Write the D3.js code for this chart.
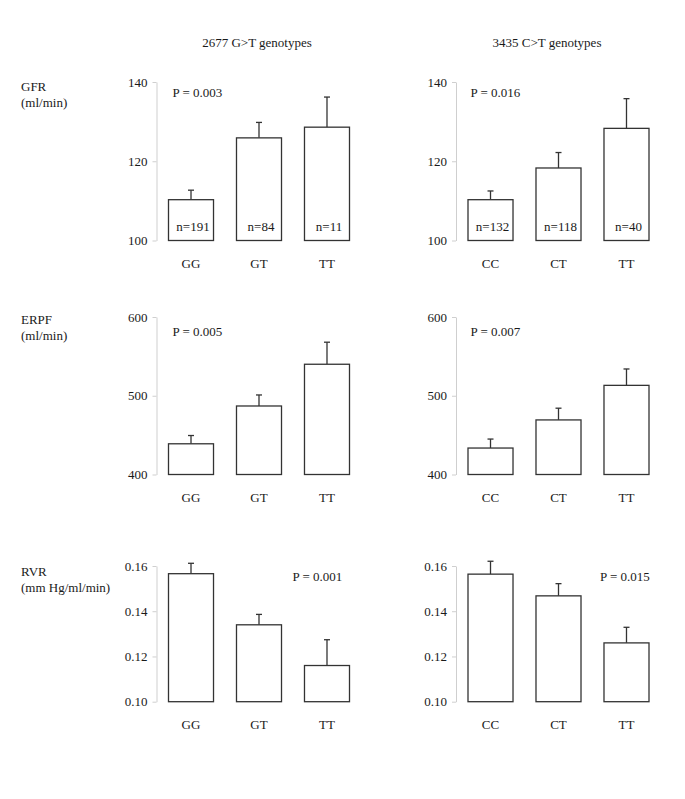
<!DOCTYPE html>
<html>
<head>
<meta charset="utf-8">
<script src="https://cdn.jsdelivr.net/npm/d3@7"></script>
<style>
  body { margin: 0; background: #fff; }
  svg { display: block; font-family: "Liberation Serif", "Times New Roman", serif; }
</style>
</head>
<body>
<svg id="chart" width="685" height="799"></svg>
<script>
// genotype groups
const cats2677 = ["GG", "GT", "TT"];
const cats3435 = ["CC", "CT", "TT"];

// GFR (ml/min) means and SE
const gfr2677 = [110.3, 125.9, 128.6];
const gfr2677Se = [2.4, 3.9, 7.6];
const gfr3435 = [110.3, 118.3, 128.3];
const gfr3435Se = [2.2, 3.9, 7.5];
const n2677 = ["n=191", "n=84", "n=11"];
const n3435 = ["n=132", "n=118", "n=40"];

// ERPF (ml/min)
const erpf2677 = [439, 487, 540];
const erpf2677Se = [10.5, 14, 28];
const erpf3435 = [433.6, 469.3, 513.2];
const erpf3435Se = [11.4, 14.9, 20.8];

// RVR (mm Hg/ml/min)
const rvr2677 = [0.1566, 0.134, 0.116];
const rvr2677Se = [0.0046, 0.0046, 0.0114];
const rvr3435 = [0.1564, 0.1468, 0.126];
const rvr3435Se = [0.0057, 0.0054, 0.0069];

const gfrTicks = [100, 120, 140];
const erpfTicks = [400, 500, 600];
const rvrTicks = [0.10, 0.12, 0.14, 0.16];

const svg = d3.select("#chart");
const ink = "#1a1a1a";

// column titles
svg.append("text").attr("x", 257).attr("y", 47).attr("text-anchor", "middle")
  .attr("font-size", 13).attr("fill", ink).text("2677 G>T genotypes");
svg.append("text").attr("x", 547).attr("y", 47).attr("text-anchor", "middle")
  .attr("font-size", 13).attr("fill", ink).text("3435 C>T genotypes");

const rows = [
  { top: 82, bottom: 240.5, label: ["GFR", "(ml/min)"], labelY: 91, ticks: gfrTicks, fmt: d3.format("d") },
  { top: 317, bottom: 474.5, label: ["ERPF", "(ml/min)"], labelY: 324, ticks: erpfTicks, fmt: d3.format("d") },
  { top: 566, bottom: 701.7, label: ["RVR", "(mm Hg/ml/min)"], labelY: 576, ticks: rvrTicks, fmt: d3.format(".2f") }
];

const panels = [
  { row: 0, axisX: 156.5, cats: cats2677, vals: gfr2677, se: gfr2677Se, n: n2677, p: "P = 0.003", px: 172.5, pdy: 15 },
  { row: 0, axisX: 456, cats: cats3435, vals: gfr3435, se: gfr3435Se, n: n3435, p: "P = 0.016", px: 470.5, pdy: 15 },
  { row: 1, axisX: 156.5, cats: cats2677, vals: erpf2677, se: erpf2677Se, p: "P = 0.005", px: 172.5, pdy: 19 },
  { row: 1, axisX: 456, cats: cats3435, vals: erpf3435, se: erpf3435Se, p: "P = 0.007", px: 470.5, pdy: 19 },
  { row: 2, axisX: 156.5, cats: cats2677, vals: rvr2677, se: rvr2677Se, p: "P = 0.001", px: 292.5, pdy: 15 },
  { row: 2, axisX: 456, cats: cats3435, vals: rvr3435, se: rvr3435Se, p: "P = 0.015", px: 600, pdy: 15 }
];

// row labels
rows.forEach(r => {
  const t = svg.append("text").attr("x", 21).attr("y", r.labelY)
    .attr("font-size", 13).attr("fill", ink);
  t.append("tspan").attr("x", 21).text(r.label[0]);
  t.append("tspan").attr("x", 21).attr("dy", 16).text(r.label[1]);
});

panels.forEach(pn => {
  const r = rows[pn.row];
  const g = svg.append("g").attr("transform", `translate(${pn.axisX},0)`);

  const y = d3.scaleLinear()
    .domain([r.ticks[0], r.ticks[r.ticks.length - 1]])
    .range([r.bottom, r.top]);
  const x = d3.scaleBand().domain(pn.cats)
    .range([12, 193]).paddingInner(0.338).paddingOuter(0);

  const ax = g.append("g").call(d3.axisLeft(y).tickValues(r.ticks).tickFormat(r.fmt)
    .tickSize(4).tickPadding(5).tickSizeOuter(0));
  ax.select(".domain").attr("stroke", "#cfcfcf");
  ax.selectAll(".tick line").attr("stroke", "#cfcfcf");
  ax.selectAll(".tick text").attr("font-size", 13).attr("fill", ink)
    .attr("font-family", "Liberation Serif, serif");

  const data = pn.cats.map((c, i) => ({ c, v: pn.vals[i], se: pn.se[i], n: pn.n ? pn.n[i] : null }));

  // error bars (drawn first, bar outline covers the stem base)
  const cx = d => x(d.c) + x.bandwidth() / 2;
  g.selectAll("line.err").data(data).join("line")
    .attr("x1", cx).attr("x2", cx)
    .attr("y1", d => y(d.v)).attr("y2", d => y(d.v + d.se))
    .attr("stroke", "#333").attr("stroke-width", 1.3);
  g.selectAll("line.cap").data(data).join("line")
    .attr("x1", d => cx(d) - 3).attr("x2", d => cx(d) + 3)
    .attr("y1", d => y(d.v + d.se)).attr("y2", d => y(d.v + d.se))
    .attr("stroke", "#333").attr("stroke-width", 1.3);

  g.selectAll("rect.bar").data(data).join("rect")
    .attr("x", d => x(d.c)).attr("width", x.bandwidth())
    .attr("y", d => y(d.v)).attr("height", d => y.range()[0] - y(d.v))
    .attr("fill", "#fff").attr("stroke", "#333").attr("stroke-width", 1.3);

  // category labels
  g.selectAll("text.cat").data(data).join("text")
    .attr("x", cx).attr("y", r.bottom + 27).attr("text-anchor", "middle")
    .attr("font-size", 13).attr("fill", ink).text(d => d.c);

  if (pn.n) {
    g.selectAll("text.n").data(data).join("text")
      .attr("x", d => cx(d) + 2).attr("y", r.bottom - 10).attr("text-anchor", "middle")
      .attr("font-size", 13).attr("fill", ink).text(d => d.n);
  }

  svg.append("text").attr("x", pn.px).attr("y", r.top + pn.pdy)
    .attr("font-size", 13).attr("fill", ink).text(pn.p);
});
</script>
</body>
</html>
